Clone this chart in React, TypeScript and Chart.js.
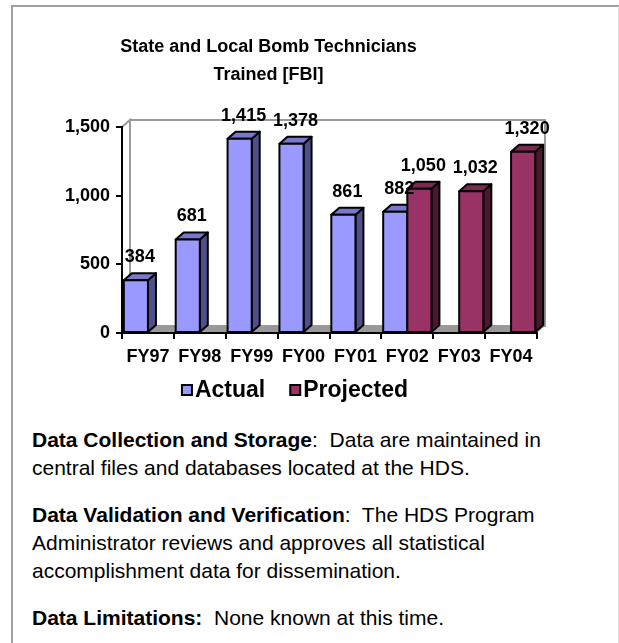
import React, { useEffect, useRef } from 'react';
import { Chart, registerables } from 'chart.js';

Chart.register(...registerables);

const categories = ['FY97', 'FY98', 'FY99', 'FY00', 'FY01', 'FY02', 'FY03', 'FY04'];
const actualValues = [384, 681, 1415, 1378, 861, 882, null, null];
const projectedValues = [null, null, null, null, null, 1050, 1032, 1320];
const seriesNames = ['Actual', 'Projected'];
const yMin = 0;
const yMax = 1500;
const yStep = 500;
const titleLines = ['State and Local Bomb Technicians', 'Trained [FBI]'];

const FONT = "'Liberation Sans', Arial, Helvetica, sans-serif";
const DX = 8;
const DY = 7;
const LEGEND_CX = 295;
const LEGEND_CY = 390;

const palette: Record<string, { front: string; top: string; side: string }> = {
  Actual: { front: '#9999ff', top: '#7878cc', side: '#4f4f8a' },
  Projected: { front: '#993366', top: '#7a2952', side: '#4a1830' },
};

const threeDPlugin = {
  id: 'threeD',
  beforeDraw(chart: any) {
    const { ctx, chartArea } = chart;
    const { left, right, top, bottom } = chartArea;
    ctx.save();
    ctx.lineWidth = 2;
    ctx.strokeStyle = '#9a9a9a';
    ctx.fillStyle = '#ffffff';
    ctx.beginPath();
    ctx.rect(left + DX, top - DY, right - left, bottom - top);
    ctx.fill();
    ctx.stroke();
    ctx.beginPath();
    ctx.moveTo(left, top);
    ctx.lineTo(left + DX, top - DY);
    ctx.lineTo(left + DX, bottom - DY);
    ctx.lineTo(left, bottom);
    ctx.closePath();
    ctx.fill();
    ctx.stroke();
    ctx.fillStyle = '#999999';
    ctx.beginPath();
    ctx.moveTo(left, bottom);
    ctx.lineTo(right, bottom);
    ctx.lineTo(right + DX, bottom - DY);
    ctx.lineTo(left + DX, bottom - DY);
    ctx.closePath();
    ctx.fill();
    ctx.restore();
  },
  afterDatasetsDraw(chart: any) {
    const { ctx } = chart;
    const items: any[] = [];
    chart.data.datasets.forEach((ds: any, di: number) => {
      const meta = chart.getDatasetMeta(di);
      meta.data.forEach((el: any, i: number) => {
        const v = ds.data[i];
        if (v == null) return;
        const p = el.getProps(['x', 'y', 'base', 'width'], true);
        items.push({
          x0: p.x - p.width / 2,
          x1: p.x + p.width / 2,
          y: p.y,
          base: p.base,
          c: palette[ds.label],
          v,
        });
      });
    });
    items.sort((a, b) => a.x0 - b.x0);
    ctx.save();
    ctx.lineWidth = 2;
    ctx.strokeStyle = '#000';
    ctx.lineJoin = 'round';
    items.forEach((it) => {
      ctx.beginPath();
      ctx.moveTo(it.x1, it.y);
      ctx.lineTo(it.x1 + DX, it.y - DY);
      ctx.lineTo(it.x1 + DX, it.base - DY);
      ctx.lineTo(it.x1, it.base);
      ctx.closePath();
      ctx.fillStyle = it.c.side;
      ctx.fill();
      ctx.stroke();
      ctx.beginPath();
      ctx.moveTo(it.x0, it.y);
      ctx.lineTo(it.x0 + DX, it.y - DY);
      ctx.lineTo(it.x1 + DX, it.y - DY);
      ctx.lineTo(it.x1, it.y);
      ctx.closePath();
      ctx.fillStyle = it.c.top;
      ctx.fill();
      ctx.stroke();
      ctx.beginPath();
      ctx.rect(it.x0, it.y, it.x1 - it.x0, it.base - it.y);
      ctx.fillStyle = it.c.front;
      ctx.fill();
      ctx.stroke();
    });
    ctx.font = `bold 18px ${FONT}`;
    ctx.fillStyle = '#000';
    ctx.textAlign = 'center';
    ctx.textBaseline = 'middle';
    items.forEach((it) => {
      ctx.fillText(Number(it.v).toLocaleString('en-US'), (it.x0 + it.x1) / 2 + DX / 2, it.y - 23);
    });
    ctx.restore();
  },
  afterDraw(chart: any) {
    const { ctx } = chart;
    ctx.save();
    ctx.font = `bold 23px ${FONT}`;
    const box = 10;
    const gapText = 3;
    const gapItems = 25;
    const entries = chart.data.datasets.map((ds: any) => ({
      label: ds.label,
      color: palette[ds.label].front,
      w: ctx.measureText(ds.label).width,
    }));
    let total = 0;
    entries.forEach((e: any, i: number) => {
      total += box + gapText + e.w + (i > 0 ? gapItems : 0);
    });
    let x = LEGEND_CX - total / 2;
    ctx.textBaseline = 'middle';
    ctx.textAlign = 'left';
    entries.forEach((e: any, i: number) => {
      if (i > 0) x += gapItems;
      ctx.fillStyle = e.color;
      ctx.fillRect(x, LEGEND_CY - box / 2, box, box);
      ctx.lineWidth = 2;
      ctx.strokeStyle = '#000';
      ctx.strokeRect(x, LEGEND_CY - box / 2, box, box);
      x += box + gapText;
      ctx.fillStyle = '#000';
      ctx.fillText(e.label, x, LEGEND_CY + 1);
      x += e.w;
    });
    ctx.restore();
  },
};

function BarChart() {
  const ref = useRef<HTMLCanvasElement | null>(null);
  useEffect(() => {
    if (!ref.current) return;
    const tickFont = { family: FONT, size: 18, weight: 'bold' as const };
    const chart = new Chart(ref.current, {
      type: 'bar',
      data: {
        labels: categories,
        datasets: [
          { label: seriesNames[0], data: actualValues, backgroundColor: palette.Actual.front, borderWidth: 0 },
          { label: seriesNames[1], data: projectedValues, backgroundColor: palette.Projected.front, borderWidth: 0 },
        ],
      },
      options: {
        animation: false,
        responsive: false,
        events: [],
        layout: { padding: { left: 0, right: 82, top: 0, bottom: 47 } },
        datasets: { bar: { categoryPercentage: 0.93, barPercentage: 1 } } as any,
        plugins: {
          legend: { display: false },
          tooltip: { enabled: false },
          title: {
            display: true,
            text: titleLines,
            color: '#000',
            font: { family: FONT, size: 18, weight: 'bold', lineHeight: 28 / 18 },
            padding: { top: 33, bottom: 38 },
          },
        },
        scales: {
          x: {
            grid: { display: true, drawOnChartArea: false, drawTicks: true, tickLength: 6, color: '#000', lineWidth: 2, offset: true },
            border: { display: true, color: '#000', width: 2 },
            ticks: { color: '#000', font: tickFont, padding: 7, maxRotation: 0, autoSkip: false },
            afterFit: (s: any) => { s.height = 40; },
          },
          y: {
            min: yMin,
            max: yMax,
            ticks: { stepSize: yStep, color: '#000', font: tickFont, padding: 6 },
            grid: { drawOnChartArea: false, drawTicks: true, tickLength: 6, color: '#000', lineWidth: 2 },
            border: { display: true, color: '#000', width: 2 },
            afterFit: (s: any) => { s.width = 122; },
          },
        },
      },
      plugins: [threeDPlugin],
    });
    return () => chart.destroy();
  }, []);
  return <canvas ref={ref} width={619} height={420} style={{ position: 'absolute', left: 0, top: 0, display: 'block' }} />;
}

export default function App() {
  const p: React.CSSProperties = { margin: 0 };
  return (
    <div style={{ position: 'absolute', left: 0, top: 0, width: 619, height: 643, overflow: 'hidden', background: '#fff' }}>
      <div
        style={{
          position: 'absolute',
          left: 11,
          top: 5,
          width: 608,
          height: 638,
          boxSizing: 'border-box',
          borderLeft: '2px solid #a0a0a0',
          borderTop: '2px solid #a0a0a0',
          borderRight: '1px solid #dcdcdc',
        }}
      />
      <BarChart />
      <div
        style={{
          position: 'absolute',
          left: 32,
          top: 426,
          fontFamily: FONT,
          fontSize: 21,
          lineHeight: '28px',
          color: '#000',
          whiteSpace: 'pre',
        }}
      >
        <p style={p}>
          <b>Data Collection and Storage</b>{':  Data are maintained in\ncentral files and databases located at the HDS.'}
        </p>
        <p style={{ ...p, marginTop: 19 }}>
          <b>Data Validation and Verification</b>{':  The HDS Program\nAdministrator reviews and approves all statistical\naccomplishment data for dissemination.'}
        </p>
        <p style={{ ...p, marginTop: 19 }}>
          <b>Data Limitations:</b>{'  None known at this time.'}
        </p>
      </div>
    </div>
  );
}
